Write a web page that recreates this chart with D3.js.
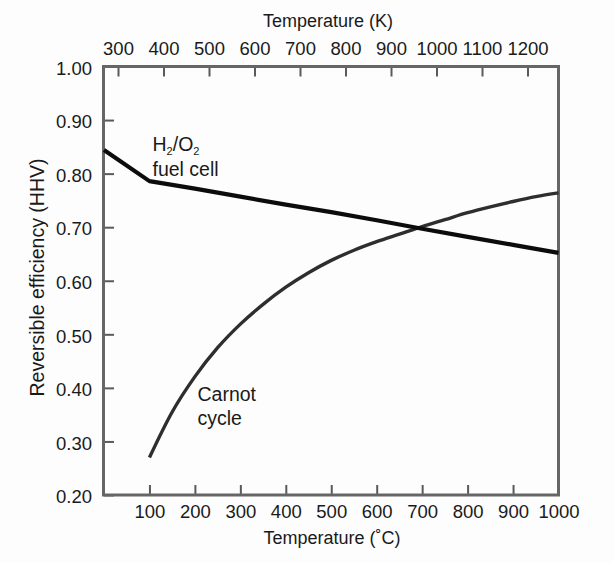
<!DOCTYPE html>
<html>
<head>
<meta charset="utf-8">
<script src="https://cdn.jsdelivr.net/npm/d3@7/dist/d3.min.js"></script>
<style>
  html, body { margin: 0; padding: 0; background: #fdfdfd; }
  svg { display: block; }
  text { font-family: "Liberation Sans", Arial, sans-serif; fill: #1a1a1a; }
</style>
</head>
<body>
<svg id="chart" width="614" height="563"></svg>
<script>
// Reversible efficiency (HHV basis) versus temperature
const celsiusTicks = [100, 200, 300, 400, 500, 600, 700, 800, 900, 1000];
const kelvinTicks = [300, 400, 500, 600, 700, 800, 900, 1000, 1100, 1200];
const efficiencyTicks = [0.20, 0.30, 0.40, 0.50, 0.60, 0.70, 0.80, 0.90, 1.00];

// H2/O2 fuel cell (ΔG/ΔH_HHV), °C
const fuelCellTemps = [0, 100, 200, 300, 400, 500, 600, 700, 800, 900, 1000];
const fuelCellEff = [0.844, 0.786, 0.772, 0.757, 0.742, 0.728, 0.713, 0.697, 0.682, 0.667, 0.652];

// Carnot cycle, °C
const carnotTemps = [100, 150, 200, 250, 300, 350, 400, 450, 500, 550, 600, 650, 700, 750, 800, 850, 900, 950, 1000];
const carnotEff = [0.270, 0.355, 0.421, 0.475, 0.519, 0.556, 0.588, 0.615, 0.638, 0.657, 0.673, 0.687, 0.701, 0.714, 0.727, 0.738, 0.748, 0.757, 0.764];

const svg = d3.select("#chart");

const plotLeft = 104, plotRight = 558.5, plotTop = 66.5, plotBottom = 495;

const x = d3.scaleLinear().domain([0, 1000]).range([plotLeft, plotRight]);
const xK = d3.scaleLinear().domain([300, 1200]).range([118, 527.5]);
const y = d3.scaleLinear().domain([0.2, 1.0]).range([plotBottom, plotTop]);

const tickColor = "#5a5a5a";
const tickFont = "18.5px";

// Bottom axis (°C)
const gB = svg.append("g")
  .attr("transform", `translate(0,${plotBottom})`)
  .call(d3.axisBottom(x).tickValues(celsiusTicks).tickFormat(d3.format("d"))
    .tickSizeInner(-10).tickSizeOuter(0).tickPadding(10));

// Top axis (K)
const gT = svg.append("g")
  .attr("transform", `translate(0,${plotTop})`)
  .call(d3.axisTop(xK).tickValues(kelvinTicks).tickFormat(d3.format("d"))
    .tickSizeInner(-10).tickSizeOuter(0).tickPadding(11.5));

// Left axis (efficiency)
const gL = svg.append("g")
  .attr("transform", `translate(${plotLeft},0)`)
  .call(d3.axisLeft(y).tickValues(efficiencyTicks).tickFormat(d3.format(".2f"))
    .tickSizeInner(-10).tickSizeOuter(0).tickPadding(12));

[gB, gT, gL].forEach(g => {
  g.select(".domain").remove();
  g.selectAll(".tick line").attr("stroke", tickColor).attr("stroke-width", 2);
  g.selectAll(".tick text")
    .attr("fill", "#1a1a1a")
    .style("font-family", "'Liberation Sans', Arial, sans-serif")
    .style("font-size", tickFont);
});
gL.selectAll(".tick text").attr("dy", "0.42em");

// Plot frame
svg.append("rect")
  .attr("x", plotLeft - 0.5)
  .attr("y", plotTop)
  .attr("width", plotRight - plotLeft + 0.5)
  .attr("height", plotBottom - plotTop)
  .attr("fill", "none")
  .attr("stroke", "#666")
  .attr("stroke-width", 3);

// Curves
const fuelLine = d3.line()
  .x((d, i) => x(fuelCellTemps[i]))
  .y(d => y(d));

const carnotLine = d3.line()
  .x((d, i) => x(carnotTemps[i]))
  .y(d => y(d))
  .curve(d3.curveMonotoneX);

svg.append("path")
  .datum(carnotEff)
  .attr("d", carnotLine)
  .attr("fill", "none")
  .attr("stroke", "#2e2e2e")
  .attr("stroke-width", 3.4);

svg.append("path")
  .datum(fuelCellEff)
  .attr("d", fuelLine)
  .attr("fill", "none")
  .attr("stroke", "#0c0c0c")
  .attr("stroke-width", 4.2)
  .attr("stroke-linejoin", "round");

// Axis titles
svg.append("text")
  .attr("x", 328).attr("y", 27)
  .attr("text-anchor", "middle")
  .style("font-size", "18px")
  .text("Temperature (K)");

svg.append("text")
  .attr("x", 332).attr("y", 544)
  .attr("text-anchor", "middle")
  .style("font-size", "18px")
  .text("Temperature (\u02DAC)");

svg.append("text")
  .attr("transform", "translate(44,277.5) rotate(-90)")
  .attr("text-anchor", "middle")
  .style("font-size", "19.5px")
  .text("Reversible efficiency (HHV)");

// Curve labels
const labelFont = "19.5px";
const fc = svg.append("text")
  .attr("x", 152.5).attr("y", 151)
  .style("font-size", labelFont);
fc.append("tspan").text("H");
fc.append("tspan").attr("dy", 3.5).style("font-size", "11px").text("2");
fc.append("tspan").attr("dy", -3.5).text("/O");
fc.append("tspan").attr("dy", 3.5).style("font-size", "11px").text("2");

svg.append("text")
  .attr("x", 152.5).attr("y", 175.5)
  .style("font-size", labelFont)
  .text("fuel cell");

svg.append("text")
  .attr("x", 197.5).attr("y", 401)
  .style("font-size", labelFont)
  .text("Carnot");

svg.append("text")
  .attr("x", 197.5).attr("y", 425)
  .style("font-size", labelFont)
  .text("cycle");
</script>
</body>
</html>
